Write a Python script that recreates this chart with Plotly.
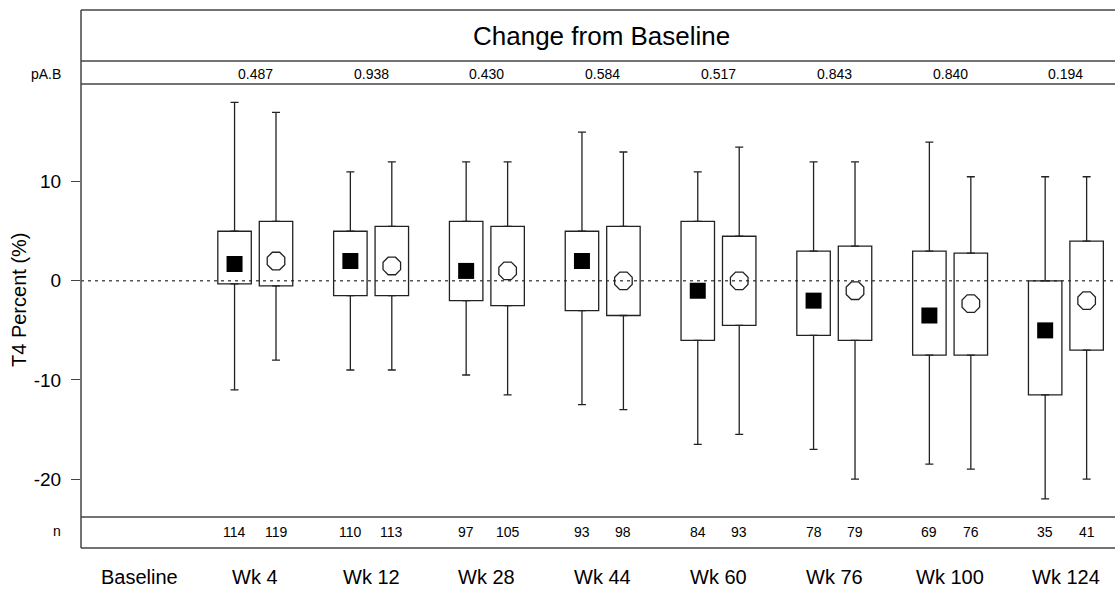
import plotly.graph_objects as go

# ---- data -------------------------------------------------------------
categories = ["Baseline", "Wk 4", "Wk 12", "Wk 28", "Wk 44", "Wk 60", "Wk 76", "Wk 100", "Wk 124"]

# Group A (filled square = mean)
a_max = [18, 11, 12, 15, 11, 12, 14, 10.5]
a_q3 = [5, 5, 6, 5, 6, 3, 3, 0]
a_q1 = [-0.3, -1.5, -2, -3, -6, -5.5, -7.5, -11.5]
a_min = [-11, -9, -9.5, -12.5, -16.5, -17, -18.5, -22]
a_mean = [1.7, 2.0, 1.0, 2.0, -1.0, -2.0, -3.5, -5.0]
n_a = [114, 110, 97, 93, 84, 78, 69, 35]

# Group B (open octagon = mean)
b_max = [17, 12, 12, 13, 13.5, 12, 10.5, 10.5]
b_q3 = [6, 5.5, 5.5, 5.5, 4.5, 3.5, 2.8, 4.0]
b_q1 = [-0.5, -1.5, -2.5, -3.5, -4.5, -6, -7.5, -7]
b_min = [-8, -9, -11.5, -13, -15.5, -20, -19, -20]
b_mean = [2.0, 1.5, 1.0, 0.0, 0.0, -1.0, -2.3, -2.0]
n_b = [119, 113, 105, 98, 93, 79, 76, 41]

p_values = ["0.487", "0.938", "0.430", "0.584", "0.517", "0.843", "0.840", "0.194"]

y_ticks = [-20, -10, 0, 10]

# ---- layout geometry (pixels) -----------------------------------------
W, H = 1115, 589
LEFT = 81
TOP, HEAD_BOT, P_BOT, MAIN_BOT, N_BOT = 10, 61, 84, 517, 548
OFF = 0.179       # half distance between the two boxes of a visit
BOX_W = 0.289     # box width in category units
FONT = "Arial, Liberation Sans, sans-serif"
LINE = "#444444"
INK = "#222222"


def px_x(px):
    return px / W


def px_y(py):
    return 1 - py / H


visits = list(range(1, len(categories)))
xa = [k - OFF for k in visits]
xb = [k + OFF for k in visits]

fig = go.Figure()


def add_group(xs, q1, q3, lo, hi, mean, symbol, size, filled):
    # whiskers: upper from Q3, lower from Q1
    err_style = dict(type="data", symmetric=False, color=INK, thickness=1.3, width=4)
    fig.add_trace(go.Scatter(
        x=xs, y=q3, mode="markers", marker=dict(size=1, color="rgba(0,0,0,0)"),
        error_y=dict(array=[h - q for h, q in zip(hi, q3)], arrayminus=[0] * len(xs), **err_style),
        hoverinfo="skip", showlegend=False))
    fig.add_trace(go.Scatter(
        x=xs, y=q1, mode="markers", marker=dict(size=1, color="rgba(0,0,0,0)"),
        error_y=dict(array=[0] * len(xs), arrayminus=[q - l for q, l in zip(q1, lo)], **err_style),
        hoverinfo="skip", showlegend=False))
    # interquartile boxes
    fig.add_trace(go.Bar(
        x=xs, y=[t - b for t, b in zip(q3, q1)], base=q1, width=BOX_W,
        marker=dict(color="rgba(0,0,0,0)", line=dict(color=INK, width=1.3)),
        hoverinfo="skip", showlegend=False))
    # means
    if filled:
        mk = dict(symbol=symbol, size=size, color="black", line=dict(width=0))
    else:
        mk = dict(symbol=symbol, size=size, color=INK, line=dict(color=INK, width=1.3))
    fig.add_trace(go.Scatter(x=xs, y=mean, mode="markers", marker=mk,
                             hoverinfo="skip", showlegend=False))


add_group(xa, a_q1, a_q3, a_min, a_max, a_mean, "square", 16, True)
add_group(xb, b_q1, b_q3, b_min, b_max, b_mean, "octagon-open", 19, False)

# ---- frame and panels -------------------------------------------------
shapes = []
for py in [TOP, HEAD_BOT, P_BOT, MAIN_BOT, N_BOT]:
    shapes.append(dict(type="line", xref="paper", yref="paper",
                       x0=px_x(LEFT), x1=1, y0=px_y(py), y1=px_y(py),
                       line=dict(color=LINE, width=1.5)))
shapes.append(dict(type="line", xref="paper", yref="paper",
                   x0=px_x(LEFT), x1=px_x(LEFT), y0=px_y(TOP), y1=px_y(N_BOT),
                   line=dict(color=LINE, width=1.5)))
# reference line at zero change
shapes.append(dict(type="line", xref="paper", yref="y",
                   x0=px_x(LEFT), x1=1, y0=0, y1=0, layer="below",
                   line=dict(color="#555555", width=1.5, dash="3px,4px")))

annotations = [
    dict(text="Change from Baseline", xref="paper", yref="paper",
         x=px_x(601), y=px_y(36), xanchor="center", yanchor="middle",
         showarrow=False, font=dict(size=26, color="black", family=FONT)),
    dict(text="pA.B", xref="paper", yref="paper", x=px_x(63), y=px_y(74),
         xanchor="right", yanchor="middle", showarrow=False,
         font=dict(size=14, color="black", family=FONT)),
    dict(text="n", xref="paper", yref="paper", x=px_x(63), y=px_y(531),
         xanchor="right", yanchor="middle", showarrow=False,
         font=dict(size=14, color="black", family=FONT)),
    dict(text="T4 Percent (%)", xref="paper", yref="paper", x=px_x(19), y=px_y(300),
         xanchor="center", yanchor="middle", textangle=-90, showarrow=False,
         font=dict(size=20, color="black", family=FONT)),
]
for k, p in zip(visits, p_values):
    annotations.append(dict(text=p, xref="x", yref="paper", x=k, y=px_y(74),
                            xanchor="center", yanchor="middle", showarrow=False,
                            font=dict(size=14, color="black", family=FONT)))
for xs, ns in [(xa, n_a), (xb, n_b)]:
    for x, n in zip(xs, ns):
        annotations.append(dict(text=str(n), xref="x", yref="paper", x=x, y=px_y(532),
                                xanchor="center", yanchor="middle", showarrow=False,
                                font=dict(size=14, color="black", family=FONT)))
for k, c in enumerate(categories):
    annotations.append(dict(text=c, xref="x", yref="paper", x=k, y=px_y(577),
                            xanchor="center", yanchor="middle", showarrow=False,
                            font=dict(size=20, color="black", family=FONT)))

fig.update_layout(
    width=W, height=H,
    margin=dict(l=0, r=0, t=0, b=0, pad=0),
    paper_bgcolor="white", plot_bgcolor="white",
    barmode="overlay",
    showlegend=False,
    shapes=shapes,
    annotations=annotations,
    font=dict(family=FONT, color="black"),
    xaxis=dict(domain=[px_x(LEFT), 1], range=[-0.505, 8.424], showticklabels=False,
               showgrid=False, zeroline=False, showline=False, ticks="", fixedrange=True),
    yaxis=dict(domain=[px_y(MAIN_BOT), px_y(P_BOT)], range=[-23.83, 19.86],
               tickvals=y_ticks, ticktext=[str(v) for v in y_ticks],
               ticks="outside", ticklen=9, tickwidth=1.3, tickcolor=LINE,
               ticklabelstandoff=6,
               tickfont=dict(size=19, color="black", family=FONT),
               showgrid=False, zeroline=False, showline=False, fixedrange=True,
               automargin=False),
)

fig.write_html("out.html")
